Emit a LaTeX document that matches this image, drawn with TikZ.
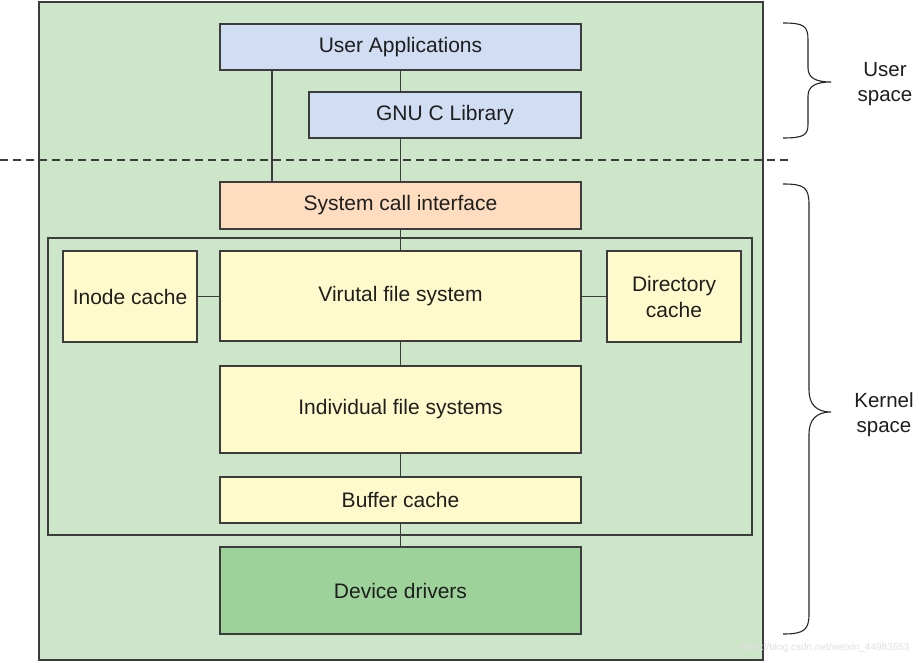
\documentclass[tikz,border=0pt]{standalone}
\usepackage{fontspec}
\setmainfont{Liberation Sans}
\definecolor{outergreen}{HTML}{CDE6C9}
\definecolor{userblue}{HTML}{D0DDF2}
\definecolor{sysorange}{HTML}{FDDCBF}
\definecolor{fsyellow}{HTML}{FFFACC}
\definecolor{devgreen}{HTML}{9DD39B}
\definecolor{edgegray}{HTML}{3C3C3C}
\definecolor{txt}{HTML}{1E1E1E}
\begin{document}
\begin{tikzpicture}[x=1pt,y=-1pt,
  box/.style={draw=edgegray,line width=1.6pt,rectangle,inner sep=0pt,
    text=txt,font=\fontsize{21}{26}\selectfont,align=center},
  conn/.style={draw=edgegray,line width=1.5pt},
  bracestyle/.style={draw=black!85,line width=1.1pt},
  sidelabel/.style={text=txt,font=\fontsize{20.5}{25}\selectfont,align=center}]
\useasboundingbox (0,0) rectangle (923,663);
\fill[white] (0,0) rectangle (923,663);
% outer box
\node[box,fill=outergreen,minimum width=724pt,minimum height=658pt] (outer) at (401,331) {};
% dashed separator
\coordinate (dl) at (0,160);
\coordinate (dr) at (790,160);
\draw[edgegray,line width=1.6pt,dash pattern=on 8pt off 5pt] (dl) -- (dr);
% inner file system box
\node[box,minimum width=704pt,minimum height=297pt] (inner) at (400,386.5) {};
% nodes
\node[box,fill=userblue,minimum width=361pt,minimum height=46pt] (ua) at (400.5,47) {User Applications};
\node[box,fill=userblue,minimum width=272pt,minimum height=46pt] (gnu) at (445,115) {GNU C Library};
\node[box,fill=sysorange,minimum width=361pt,minimum height=47pt] (sci) at (400.5,205.5) {System call interface};
\node[box,fill=fsyellow,minimum width=134pt,minimum height=91pt] (inode) at (130,296.5) {Inode cache};
\node[box,fill=fsyellow,minimum width=361pt,minimum height=90pt] (vfs) at (400.5,296) {Virutal file system};
\node[box,fill=fsyellow,minimum width=134pt,minimum height=91pt] (dir) at (674,296.5) {Directory\\cache};
\node[box,fill=fsyellow,minimum width=361pt,minimum height=87pt] (ifs) at (400.5,409.5) {Individual file systems};
\node[box,fill=fsyellow,minimum width=361pt,minimum height=46pt] (bc) at (400.5,500) {Buffer cache};
\node[box,fill=devgreen,minimum width=361pt,minimum height=87pt] (dd) at (400.5,590.5) {Device drivers};
% connectors
\coordinate (xleft) at (272,0);
\draw[conn] (ua.south -| xleft) -- (sci.north -| xleft);
\draw[conn] (ua.south) -- (ua.south |- gnu.north);
\draw[conn] (gnu.south -| sci.north) -- (sci.north);
\draw[conn] (sci.south) -- (vfs.north);
\draw[conn] (inode.east) -- (inode.east -| vfs.west);
\draw[conn] (vfs.east |- dir.west) -- (dir.west);
\draw[conn] (vfs.south) -- (ifs.north);
\draw[conn] (ifs.south) -- (bc.north);
\draw[conn] (bc.south) -- (dd.north);
% braces
\draw[bracestyle] (783,23) .. controls (804,23) and (808,26) .. (808,40)
  -- (808,68) .. controls (808,78) and (816,82) .. (831,82)
  .. controls (816,82) and (808,86) .. (808,96)
  -- (808,124) .. controls (808,135) and (804,138) .. (783,138);
\draw[bracestyle] (783,184) .. controls (804,184) and (809,187) .. (809,205)
  -- (809,390) .. controls (809,404) and (816,412) .. (831,412)
  .. controls (816,412) and (809,420) .. (809,434)
  -- (809,614) .. controls (809,630) and (804,634) .. (783,634);
% side labels
\node[sidelabel] (uslabel) at (885,84) {User\\space};
\node[sidelabel] (kslabel) at (884,415) {Kernel\\space};
% watermark
\node[text=black!12,font=\fontsize{10}{12}\selectfont,anchor=east] (wm) at (913,648) {https://blog.csdn.net/weixin\_44983653};
\end{tikzpicture}
\end{document}
